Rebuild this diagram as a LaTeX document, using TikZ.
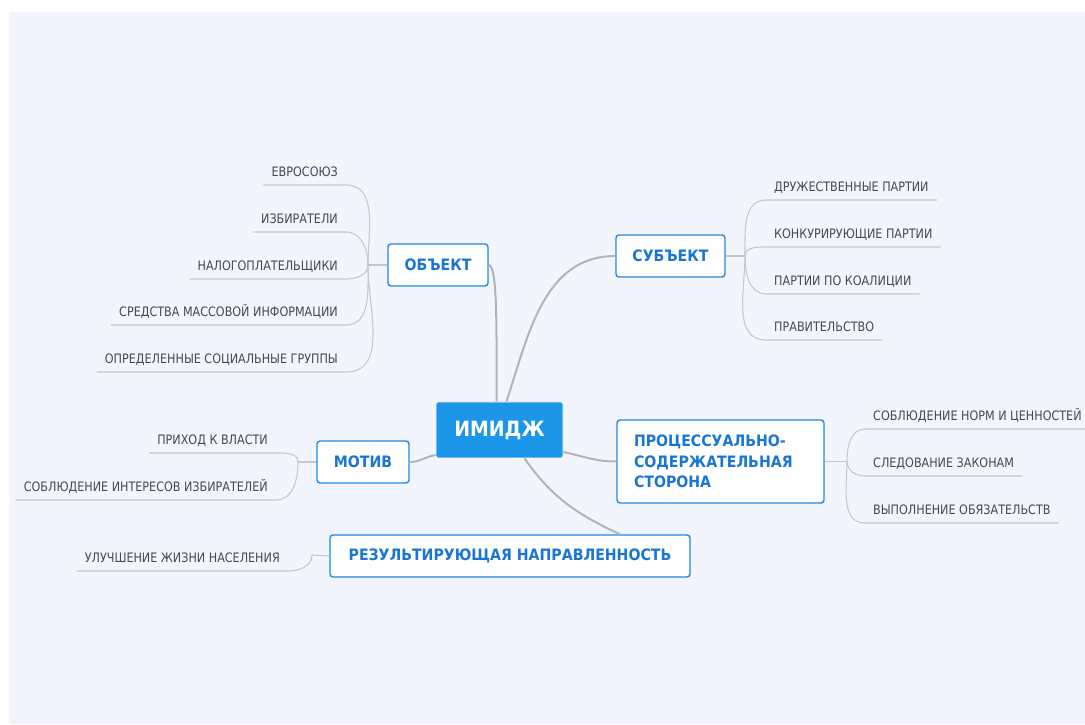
\documentclass[tikz,border=0pt]{standalone}
\usepackage{fontspec}
\setmainfont{DejaVu Sans}
\newfontfamily\leaffont[FakeStretch=0.86]{DejaVu Sans}
\newfontfamily\boxfont[FakeStretch=0.9]{DejaVu Sans}
\usepackage{xcolor}
\usepackage{tikz}
\usetikzlibrary{positioning,calc}
\definecolor{panelcolor}{RGB}{242, 245, 254}
\definecolor{boxcolor}{RGB}{33, 136, 229}
\definecolor{boxtext}{RGB}{25, 118, 210}
\definecolor{rootcolor}{RGB}{27, 150, 232}
\definecolor{branchcolor}{RGB}{180, 180, 180}
\definecolor{leafline}{RGB}{200, 200, 200}
\definecolor{leaftext}{RGB}{72, 72, 72}
\tikzset{
    root/.style={rectangle, rounded corners=1.5pt, fill=rootcolor, draw=white, line width=0.8pt, text=white, font=\boxfont\bfseries\fontsize{21}{24}\selectfont, minimum width=127pt, minimum height=56pt, inner sep=0pt},
    topic/.style={rectangle, rounded corners=3pt, draw=boxcolor, line width=1.4pt, fill=white, text=boxtext, font=\boxfont\bfseries\fontsize{15.7}{20.5}\selectfont, minimum height=42pt, inner sep=0pt},
    leaf/.style={font=\leaffont\fontsize{13}{15}\selectfont, text=leaftext, inner xsep=8pt, inner ysep=8pt, text height=9.5pt, text depth=0pt},
    branch/.style={draw=branchcolor, line width=2pt},
    twig/.style={draw=leafline, line width=1.1pt}
}
\begin{document}
\begin{tikzpicture}[x=1pt, y=1pt]
    % Canvas
    \useasboundingbox (0,0) rectangle (1085,724);
    \fill[white] (0,0) rectangle (1085,724);
    \fill[panelcolor] (9,0) rectangle (1085,712);

    % Central node and topics
    \node[root] (img) at (499.5,294) {ИМИДЖ};
    \node[topic, minimum width=100pt] (obj) at (438,459) {ОБЪЕКТ};
    \node[topic, minimum width=109pt] (subj) at (670.5,468) {СУБЪЕКТ};
    \node[topic, minimum width=207pt, minimum height=83pt, text width=173pt, align=left] (proc) at (720.5,262.5) {ПРОЦЕССУАЛЬНО-\\СОДЕРЖАТЕЛЬНАЯ\\СТОРОНА};
    \node[topic, minimum width=92pt] (mot) at (363,262) {МОТИВ};
    \node[topic, minimum width=360pt] (res) at (510,168) {РЕЗУЛЬТИРУЮЩАЯ НАПРАВЛЕННОСТЬ};

    % Main branches
    \draw[branch] (obj.east) .. controls +(9,0) and +(0,70) .. ([xshift=-3pt]img.north);
    \draw[branch] ([xshift=7pt]img.north) to[out=72, in=180] (subj.west);
    \draw[branch] ([yshift=-22pt]img.east) to[out=-12, in=180] (proc.west);
    \draw[branch] ([yshift=-25pt]img.west) to[out=190, in=0] (mot.east);
    \coordinate (resin) at ([xshift=110pt]res.north);
    \draw[branch] ([xshift=25pt]img.south) to[out=-55, in=155] (resin);

    % Junctions
    \coordinate (objj) at (368,459);
    \coordinate (subjj) at (745,468);
    \coordinate (procj) at (847,262.5);
    \coordinate (motj) at (298,262);
    \coordinate (resj) at (312,169);
    \draw[twig] (obj.west) -- (objj);
    \draw[twig] (subj.east) -- (subjj);
    \draw[twig] (proc.east) -- (procj);
    \draw[twig] (mot.west) -- (motj);
    \draw[twig] (res.west) -- (resj);

    % Leaves of ОБЪЕКТ
    \node[leaf, anchor=south east] (o1) at (346,539) {ЕВРОСОЮЗ};
    \node[leaf, anchor=south east] (o2) at (346,492) {ИЗБИРАТЕЛИ};
    \node[leaf, anchor=south east] (o3) at (346,445) {НАЛОГОПЛАТЕЛЬЩИКИ};
    \node[leaf, anchor=south east] (o4) at (346,399) {СРЕДСТВА МАССОВОЙ ИНФОРМАЦИИ};
    \node[leaf, anchor=south east] (o5) at (346,352) {ОПРЕДЕЛЕННЫЕ СОЦИАЛЬНЫЕ ГРУППЫ};
    \foreach \n in {o1,o2} {
        \draw[twig] (objj) to[out=90, in=0] (\n.south east) -- (\n.south west);
    }
    \foreach \n in {o3,o4,o5} {
        \draw[twig] (objj) to[out=-90, in=0] (\n.south east) -- (\n.south west);
    }

    % Leaves of СУБЪЕКТ
    \node[leaf, anchor=south west] (s1) at (766,524) {ДРУЖЕСТВЕННЫЕ ПАРТИИ};
    \node[leaf, anchor=south west] (s2) at (766,477) {КОНКУРИРУЮЩИЕ ПАРТИИ};
    \node[leaf, anchor=south west] (s3) at (766,430) {ПАРТИИ ПО КОАЛИЦИИ};
    \node[leaf, anchor=south west] (s4) at (766,384) {ПРАВИТЕЛЬСТВО};
    \foreach \n in {s1,s2} {
        \draw[twig] (subjj) to[out=90, in=180] (\n.south west) -- (\n.south east);
    }
    \foreach \n in {s3,s4} {
        \draw[twig] (subjj) to[out=-90, in=180] (\n.south west) -- (\n.south east);
    }

    % Leaves of ПРОЦЕССУАЛЬНО-СОДЕРЖАТЕЛЬНАЯ СТОРОНА
    \node[leaf, anchor=south west] (p1) at (865,295) {СОБЛЮДЕНИЕ НОРМ И ЦЕННОСТЕЙ};
    \node[leaf, anchor=south west] (p2) at (865,248) {СЛЕДОВАНИЕ ЗАКОНАМ};
    \node[leaf, anchor=south west] (p3) at (865,201) {ВЫПОЛНЕНИЕ ОБЯЗАТЕЛЬСТВ};
    \draw[twig] (procj) to[out=90, in=180] (p1.south west) -- (p1.south east);
    \draw[twig] (procj) to[out=-90, in=180] (p2.south west) -- (p2.south east);
    \draw[twig] (procj) to[out=-90, in=180] (p3.south west) -- (p3.south east);

    % Leaves of МОТИВ
    \node[leaf, anchor=south east] (m1) at (276,271) {ПРИХОД К ВЛАСТИ};
    \node[leaf, anchor=south east] (m2) at (276,224) {СОБЛЮДЕНИЕ ИНТЕРЕСОВ ИЗБИРАТЕЛЕЙ};
    \draw[twig] (motj) to[out=90, in=0] (m1.south east) -- (m1.south west);
    \draw[twig] (motj) to[out=-90, in=0] (m2.south east) -- (m2.south west);

    % Leaf of РЕЗУЛЬТИРУЮЩАЯ НАПРАВЛЕННОСТЬ
    \node[leaf, anchor=south east] (r1) at (288,153) {УЛУЧШЕНИЕ ЖИЗНИ НАСЕЛЕНИЯ};
    \draw[twig] (resj) to[out=-90, in=0] (r1.south east) -- (r1.south west);
\end{tikzpicture}
\end{document}
